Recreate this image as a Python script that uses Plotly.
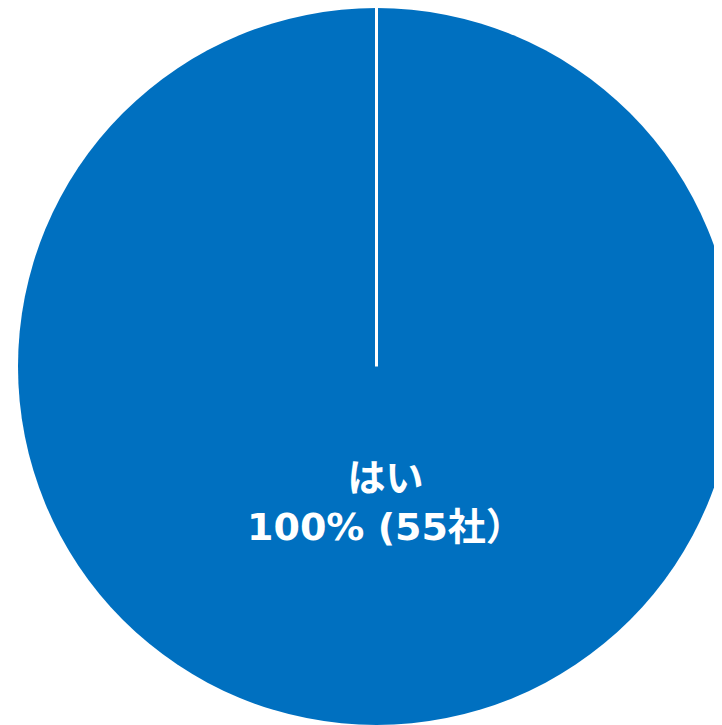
import plotly.graph_objects as go

labels = ["はい"]
values = [55]
percents = ["100%"]
units = ["社"]

text_label = f"{labels[0]}<br>{percents[0]} ({values[0]}{units[0]}）"

fig = go.Figure(go.Pie(
    labels=labels,
    values=values,
    textinfo="none",
    hoverinfo="label+value+percent",
    marker=dict(colors=["#0070C0"], line=dict(width=0)),
    sort=False,
    direction="clockwise",
    rotation=0,
    showlegend=False,
    domain=dict(x=[0, 1], y=[0, 1]),
))

# slice border from centre to 12 o'clock
fig.add_shape(type="line", xref="paper", yref="paper",
              x0=0.5, y0=0.5, x1=0.5, y1=1.0,
              line=dict(color="white", width=3))

fig.add_annotation(
    text=text_label, xref="paper", yref="paper",
    x=0.5, y=0.31, xanchor="center", yanchor="middle",
    xshift=9, showarrow=False,
    font=dict(family="DejaVu Sans, Noto Sans CJK JP", size=38, color="white", weight="bold"),
    align="center",
)

fig.update_layout(
    width=740, height=717,
    margin=dict(l=10, r=13, t=0, b=0),
    paper_bgcolor="white", plot_bgcolor="white",
)

fig.write_html("out.html")
